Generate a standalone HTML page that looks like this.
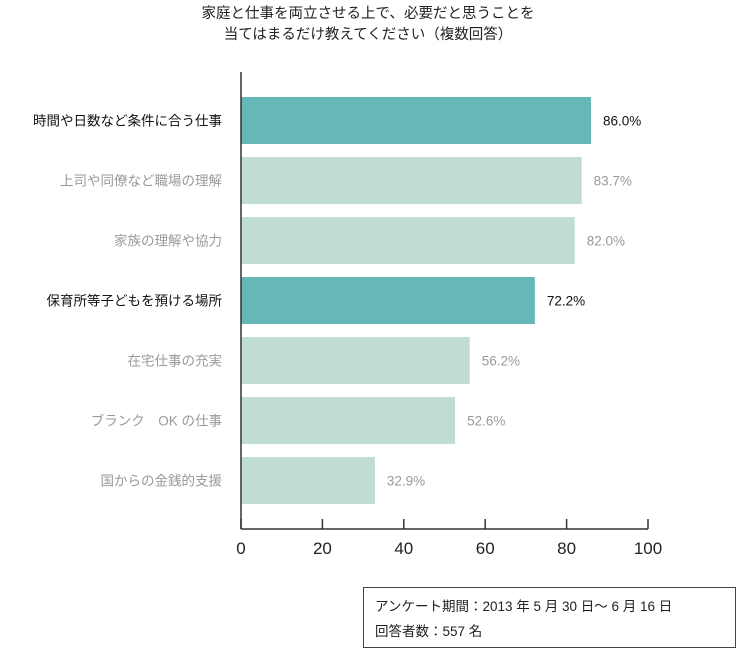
<!DOCTYPE html>
<html><head><meta charset="utf-8">
<style>
body{margin:0;background:#fff;font-family:"Liberation Sans","Noto Sans CJK JP",sans-serif;}
#wrap{position:relative;width:736px;height:666px;overflow:hidden;}
</style></head>
<body>
<div id="wrap">
<svg id="chart" width="736" height="666" style="position:absolute;left:0;top:0">
<text x="368" y="18" text-anchor="middle" font-size="14.5" fill="#222">家庭と仕事を両立させる上で、必要だと思うことを</text>
<text x="368" y="39" text-anchor="middle" font-size="14.5" fill="#222">当てはまるだけ教えてください（複数回答）</text>
<g id="bars"></g>
<g id="axes"></g>
<rect x="363.5" y="587.5" width="372" height="60" fill="#fff" stroke="#444"/>
<text x="375" y="611" font-size="13.5" fill="#222">アンケート期間：2013 年 5 月 30 日～ 6 月 16 日</text>
<text x="375" y="636" font-size="13.5" fill="#222">回答者数：557 名</text>
</svg>
</div>
<script>
const categories=["時間や日数など条件に合う仕事","上司や同僚など職場の理解","家族の理解や協力","保育所等子どもを預ける場所","在宅仕事の充実","ブランク　OK の仕事","国からの金銭的支援"];
const values=[86.0,83.7,82.0,72.2,56.2,52.6,32.9];
const highlighted=[true,false,false,true,false,false,false];
const ticks=[0,20,40,60,80,100];
const NS="http://www.w3.org/2000/svg";
const x0=241,x1=648,yTop=72,yBot=529,bandStart=97,band=60,barH=47;
const xs=v=>x0+(x1-x0)*v/100;
function mk(tag,attrs,parent){const e=document.createElementNS(NS,tag);for(const k in attrs)e.setAttribute(k,attrs[k]);parent.appendChild(e);return e;}
const bars=document.getElementById('bars'),axes=document.getElementById('axes');
categories.forEach((c,i)=>{
  const y=bandStart+i*band;
  const r=mk('rect',{x:x0,y:y,width:xs(values[i])-x0,height:barH,fill:highlighted[i]?'#66b8b8':'#c0ddd3'},bars);
  
  
  const col=highlighted[i]?'#111':'#9a9a9a';
  const l=mk('text',{x:222,y:y+barH/2+5,'text-anchor':'end','font-size':13.5,fill:col},bars);
  l.textContent=c;
  
  
  const v=mk('text',{x:xs(values[i])+12,y:y+barH/2+5,'font-size':13.5,fill:col},bars);
  v.textContent=values[i].toFixed(1)+'%';
  
  
});
const ya=mk('line',{x1:x0,y1:yTop,x2:x0,y2:yBot,stroke:'#333','stroke-width':1.5},axes);


const xa=mk('line',{x1:x0,y1:yBot,x2:x1,y2:yBot,stroke:'#333','stroke-width':1.5},axes);


ticks.forEach(t=>{
  const tl=mk('line',{x1:xs(t),y1:yBot-10,x2:xs(t),y2:yBot,stroke:'#333','stroke-width':1.5},axes);
  
  
  const tx=mk('text',{x:xs(t),y:554,'text-anchor':'middle','font-size':17,fill:'#222'},axes);
  tx.textContent=t;
  
  
});
</script>
</body></html>
